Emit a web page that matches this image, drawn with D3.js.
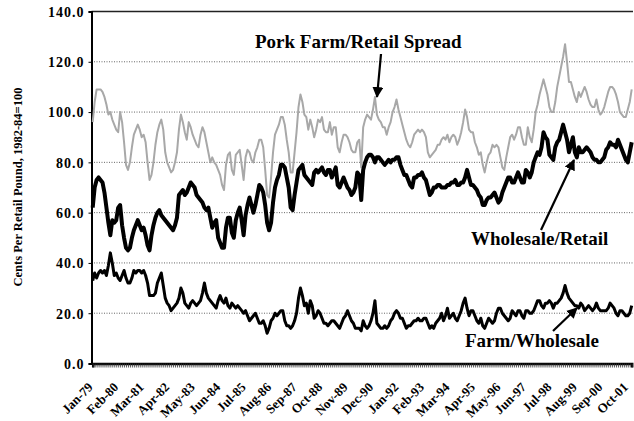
<!DOCTYPE html>
<html><head><meta charset="utf-8">
<script src="https://cdn.jsdelivr.net/npm/d3@7"></script>
<style>
html,body{margin:0;padding:0;background:#fff;}
svg{display:block;}
</style></head><body>
<svg id="c" width="634" height="421"></svg>
<script>
// ---- data (monthly, Jan-79 .. Dec-01) ----
const nMonths = 276;
const tickLabels = ["Jan-79","Feb-80","Mar-81","Apr-82","May-83","Jun-84","Jul-85","Aug-86","Sep-87","Oct-88","Nov-89","Dec-90","Jan-92","Feb-93","Mar-94","Apr-95","May-96","Jun-97","Jul-98","Aug-99","Sep-00","Oct-01"];
const yTicks = [0,20,40,60,80,100,120,140];

const farmRetailSpread = [
 96,104,109,109,109,108,106,103,99,100,97,95,
 93,92,100,96,88,79,77,80,86,91,93,95,
 93,90,91,88,80,73,75,80,87,92,95,97,
 93,84,80,78,76,77,80,84,93,99,96,92,
 89,96,94,91,89,87,86,91,94,92,88,84,
 80,82,80,79,77,75,71,69,79,83,84,77,
 75,83,84,85,79,73,82,85,84,81,80,84,
 86,89,89,86,77,67,66,74,84,91,93,95,
 98,98,95,89,84,76,76,84,92,102,107,104,
 99,98,93,97,94,90,93,97,96,98,93,92,
 92,96,91,94,94,86,84,88,91,91,90,88,
 85,84,84,88,89,78,94,97,99,98,97,101,
 106,99,97,96,94,94,91,94,96,100,102,105,
 101,98,95,92,89,87,86,88,91,92,93,92,
 93,92,90,84,82,83,84,85,87,87,89,90,
 89,91,88,90,91,90,87,89,92,96,101,98,
 93,92,92,88,86,83,84,79,76,80,83,84,
 87,86,87,86,82,78,77,82,86,90,91,89,
 91,94,94,90,87,87,94,90,88,93,100,103,
 107,110,113,110,107,102,100,100,104,110,114,118,
 122,127,120,112,112,109,106,104,108,106,108,110,
 108,105,103,102,102,105,101,99,100,102,105,108,
 110,110,109,107,104,100,99,98,98,101,104,109
];
const wholesaleRetail = [
 62,70,73,74,73,72,68,62,56,51,57,56,
 57,62,63,55,50,46,45,46,50,53,55,57,
 55,53,54,51,47,45,51,55,58,60,61,59,
 58,57,56,55,54,53,55,58,67,68,69,67,
 68,70,72,71,70,67,66,65,64,62,61,62,
 58,54,56,57,50,48,46,46,54,58,58,52,
 50,57,60,62,57,51,59,63,66,63,60,63,
 67,71,70,68,63,56,53,56,64,70,73,75,
 79,79,78,74,70,62,61,67,72,77,78,79,
 75,74,73,72,71,76,77,76,77,78,76,75,
 77,77,74,76,78,71,70,72,74,72,70,69,
 67,68,70,76,75,65,77,80,82,83,83,82,
 80,82,82,81,80,79,80,81,80,81,81,82,
 82,79,77,75,75,73,71,70,74,74,75,75,
 76,74,73,70,67,68,70,70,71,71,70,70,
 70,71,71,72,72,73,71,71,72,72,74,77,
 74,71,71,70,69,67,66,63,63,65,66,66,
 67,68,66,64,65,68,70,72,74,74,72,72,
 74,76,74,72,72,77,76,74,76,80,82,84,
 83,86,92,90,89,83,82,81,86,88,89,92,
 95,92,89,84,87,90,84,82,86,84,84,85,
 86,85,84,82,81,81,80,80,81,82,85,86,
 88,87,87,86,89,87,85,83,81,80,84,88
];
const farmWholesale = [
 33,36,34,36,37,36,37,35,39,44,40,35,
 36,34,33,35,37,34,32,32,34,37,36,37,
 37,36,37,35,32,27,27,27,28,32,34,36,
 31,26,24,23,21,22,23,24,26,30,28,24,
 23,22,24,25,24,23,24,25,28,32,28,26,
 25,24,23,22,25,27,25,24,26,23,22,24,
 23,22,23,22,21,20,21,19,17,18,19,20,
 18,16,16,17,15,12,14,17,18,20,19,20,
 21,21,17,15,15,14,15,17,20,26,30,27,
 23,24,20,25,23,18,19,21,20,18,16,16,
 15,16,17,17,16,15,14,16,18,19,21,19,
 17,16,14,14,14,13,17,15,14,15,17,20,
 25,16,15,14,14,15,14,15,17,18,20,21,
 20,18,18,16,14,15,15,16,17,17,18,17,
 17,18,18,16,14,15,14,16,17,18,20,17,
 19,22,18,19,20,18,17,19,21,24,26,22,
 19,21,21,19,17,16,18,15,14,16,18,17,
 16,17,20,22,22,20,19,18,17,18,21,20,
 19,21,21,19,18,21,21,20,20,21,23,25,
 25,23,22,24,24,25,24,22,24,24,25,26,
 28,31,28,26,25,24,23,23,22,24,23,21,
 22,23,22,21,22,24,22,21,21,21,21,22,
 24,23,22,20,19,21,21,20,19,19,20,23
];

// ---- drawing ----
const FONT = "'Liberation Serif', 'Times New Roman', Times, 'DejaVu Serif', serif";
const svg = d3.select("#c");
const L = 91.5, R = 633, T = 11.5, B = 363.5;
const x = d3.scaleLinear().domain([0, nMonths - 1]).range([92.7, 631.7]);
const y = d3.scaleLinear().domain([0, 140]).range([B, T]);

// gridlines
svg.append("g").selectAll("line")
  .data(yTicks.filter(d => d > 0 && d < 140)).join("line")
  .attr("x1", L).attr("x2", R)
  .attr("y1", d => y(d)).attr("y2", d => y(d))
  .attr("stroke", "#666").attr("stroke-width", 1).attr("stroke-dasharray", "1,1.5");
svg.append("line").attr("x1", L).attr("x2", R).attr("y1", y(140)).attr("y2", y(140))
  .attr("stroke", "#222").attr("stroke-width", 1.6);

// y axis
const gy = svg.append("g").attr("transform", `translate(${L},0)`)
  .call(d3.axisLeft(y).tickValues(yTicks).tickFormat(d3.format(".1f")).tickSize(3).tickPadding(4));
gy.attr("font-family", null).attr("font-size", null);
gy.select(".domain").attr("stroke", "#000").attr("stroke-width", 2);
gy.selectAll(".tick line").attr("stroke", "#000");
gy.selectAll("text").style("font-family", FONT).style("font-weight", "bold")
  .style("font-size", "14px").style("letter-spacing", "1px").attr("fill", "#000").attr("dy", "0.35em");

// x axis: monthly ticks
const gx = svg.append("g").attr("transform", `translate(0,${B})`)
  .call(d3.axisBottom(x).tickValues(d3.range(nMonths)).tickSize(4).tickFormat(""));
gx.select(".domain").attr("stroke", "#000").attr("stroke-width", 2.5);
gx.selectAll(".tick line").attr("stroke", "#333").attr("stroke-width", 0.8);

svg.append("g").selectAll("text").data(tickLabels).join("text")
  .attr("transform", (d, i) => `translate(${x(i * 13) + 1},${388}) rotate(-45)`)
  .attr("text-anchor", "end")
  .style("font-family", FONT).style("font-weight", "bold")
  .style("font-size", "13px")
  .text(d => d);

// y title
svg.append("text")
  .attr("transform", "translate(22,187) rotate(-90)")
  .attr("text-anchor", "middle")
  .style("font-family", FONT).style("font-weight", "bold")
  .style("font-size", "12.5px")
  .text("Cents Per Retail Pound, 1982-84=100");

// lines
const line = d3.line().x((d, i) => x(i)).y(d => y(d));
svg.append("path").datum(farmRetailSpread).attr("d", line)
  .attr("fill", "none").attr("stroke", "#a8a8a8").attr("stroke-width", 2).attr("stroke-linejoin", "round");
svg.append("path").datum(wholesaleRetail).attr("d", line)
  .attr("fill", "none").attr("stroke", "#000").attr("stroke-width", 4).attr("stroke-linejoin", "round");
svg.append("path").datum(farmWholesale).attr("d", line)
  .attr("fill", "none").attr("stroke", "#000").attr("stroke-width", 3).attr("stroke-linejoin", "round");

// annotations
const defs = svg.append("defs");
defs.append("marker").attr("id", "ah").attr("viewBox", "0 0 10 10")
  .attr("refX", 9).attr("refY", 5).attr("markerWidth", 5).attr("markerHeight", 5)
  .attr("orient", "auto").attr("markerUnits", "strokeWidth")
  .append("path").attr("d", "M0,0 L10,5 L0,10 Z").attr("fill", "#000");

function arrow(x1, y1, x2, y2) {
  svg.append("line").attr("x1", x1).attr("y1", y1).attr("x2", x2).attr("y2", y2)
    .attr("stroke", "#000").attr("stroke-width", 2.2).attr("marker-end", "url(#ah)");
}
function label(tx, ty, s) {
  svg.append("text").attr("x", tx).attr("y", ty)
    .style("font-family", FONT).style("font-weight", "bold").style("font-size", "19px")
    .attr("fill", "#000").text(s);
}
label(255, 48, "Pork Farm/Retail Spread");
arrow(381, 54, 377, 97);
label(471, 245, "Wholesale/Retail");
arrow(541, 230, 574, 160);
label(465, 347, "Farm/Wholesale");
arrow(553, 331, 577, 308);
</script>
</body></html>
